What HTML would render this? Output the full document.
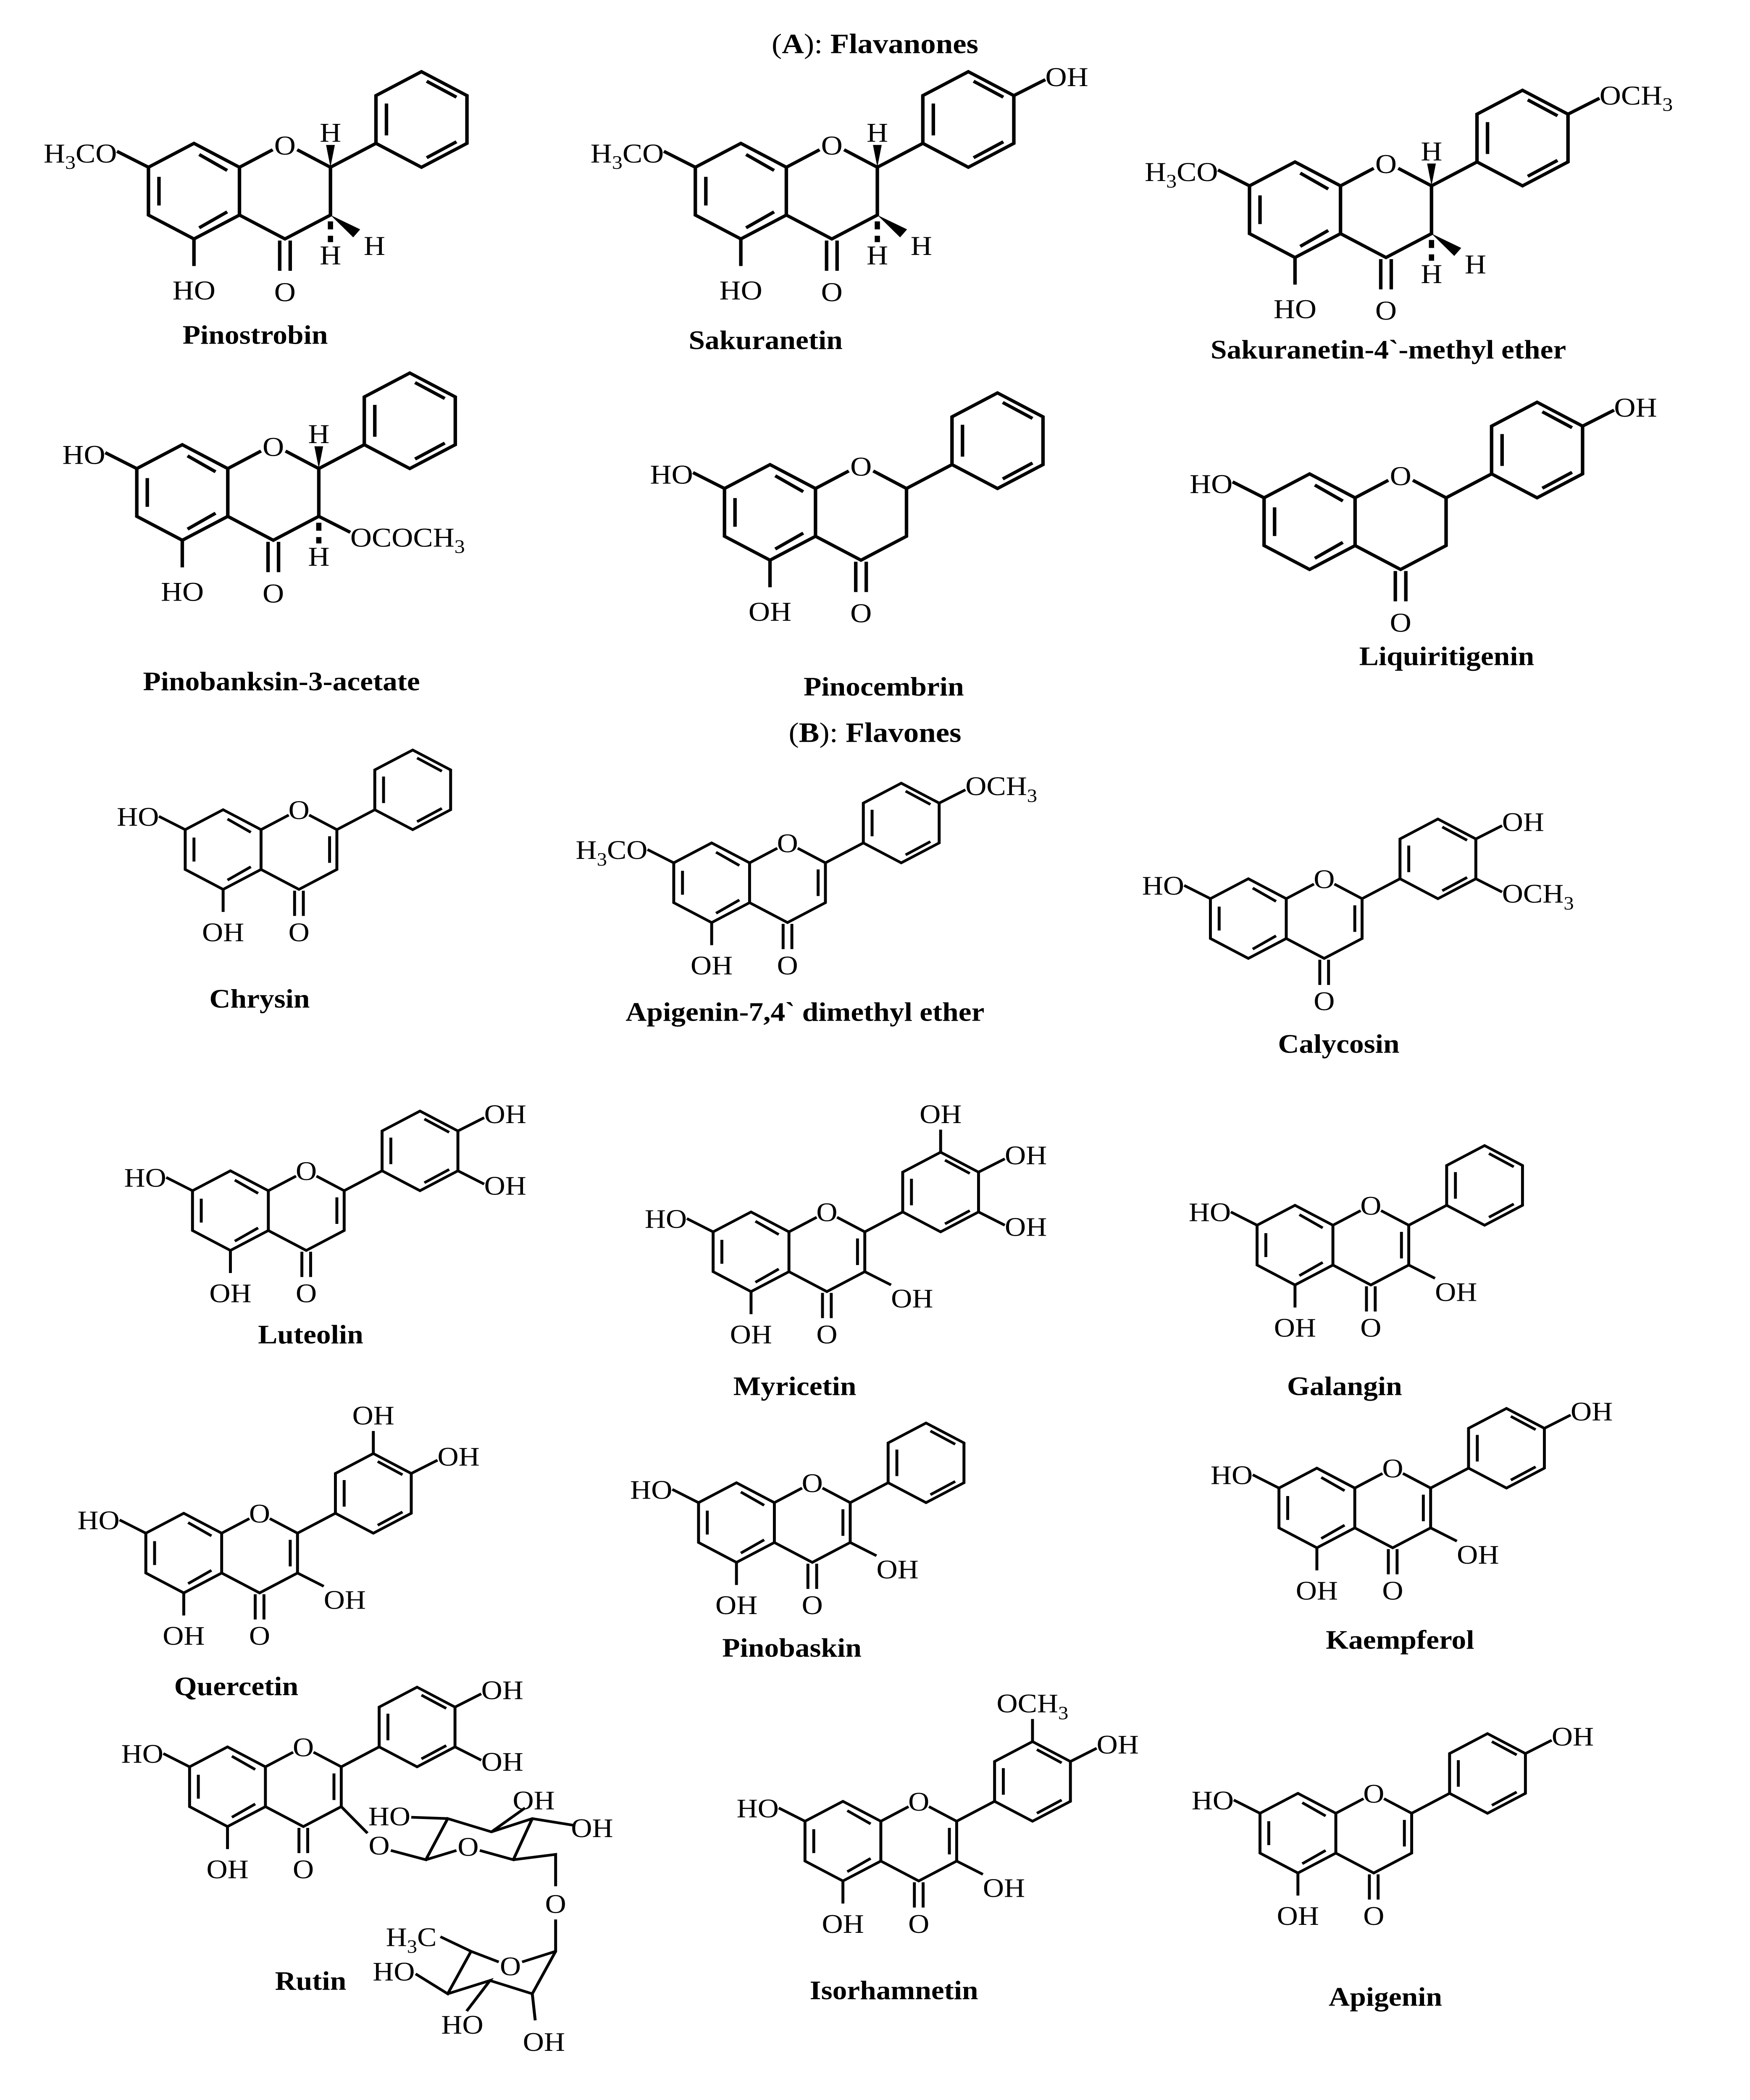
<!DOCTYPE html>
<html><head><meta charset="utf-8"><style>
html,body{margin:0;padding:0;background:#fff;overflow:hidden}
svg{display:block;position:fixed;left:0;top:0;width:100vw;height:100vh}
text{font-family:"Liberation Serif",serif;fill:#000}
.m{text-anchor:middle}
.b{font-weight:bold}
</style></head><body>
<svg viewBox="0 0 1200 1582" preserveAspectRatio="none" xmlns="http://www.w3.org/2000/svg">
<defs>
<g id="core" fill="none" stroke="#000" stroke-width="2">
<polygon points="0,-30 26,-15 26,15 0,30 -26,15 -26,-15"/>
<path d="M3,-23L19,-13M19,13L3,23M-20,-9L-20,9"/>
<path d="M26,-15L45,-26M59,-26L78,-15L78,15L52,30L26,15"/>
<path d="M49,31L49,50M55,31L55,50"/>
<path d="M78,-15L104,-30"/>
<polygon points="130,-75 156,-60 156,-30 130,-15 104,-30 104,-60"/>
<path d="M133,-69L150,-59M150,-31L133,-21M110,-35L110,-55"/>
</g>
<path id="db" d="M73,-10L73,10" stroke="#000" stroke-width="2" fill="none"/>
<g id="st">
<polygon points="78,-15 75.5,-29 80.5,-29" fill="#000"/>
<path d="M78,19L78,24M78,28L78,32" stroke="#000" stroke-width="3"/>
<polygon points="78,15 95,24 91,29" fill="#000"/>
</g>
</defs>

<g font-size="21">
<text x="600" y="40" class="m">(<tspan class="b">A</tspan>): <tspan class="b">Flavanones</tspan></text>
<text x="600" y="559" class="m">(<tspan class="b">B</tspan>): <tspan class="b">Flavones</tspan></text>
</g>
<g font-size="20" font-weight="bold">
<text x="175" y="259" class="m">Pinostrobin</text>
<text x="525" y="263" class="m">Sakuranetin</text>
<text x="952" y="270" class="m">Sakuranetin-4`-methyl ether</text>
<text x="193" y="520" class="m">Pinobanksin-3-acetate</text>
<text x="606" y="524" class="m">Pinocembrin</text>
<text x="992" y="501" class="m">Liquiritigenin</text>
<text x="178" y="759" class="m">Chrysin</text>
<text x="552" y="769" class="m">Apigenin-7,4` dimethyl ether</text>
<text x="918" y="793" class="m">Calycosin</text>
<text x="213" y="1012" class="m">Luteolin</text>
<text x="545" y="1051" class="m">Myricetin</text>
<text x="922" y="1051" class="m">Galangin</text>
<text x="162" y="1277" class="m">Quercetin</text>
<text x="543" y="1248" class="m">Pinobaskin</text>
<text x="960" y="1242" class="m">Kaempferol</text>
<text x="213" y="1499" class="m">Rutin</text>
<text x="613" y="1506" class="m">Isorhamnetin</text>
<text x="950" y="1511" class="m">Apigenin</text>
</g>

<!-- 1 Pinostrobin -->
<g transform="translate(133,144) scale(1.2)" font-size="17">
<use href="#core"/><use href="#st"/>
<g stroke="#000" stroke-width="2" fill="none"><path d="M-26,-15L-44,-25M0,30L0,47"/></g>
<text x="-44" y="-18" text-anchor="end">H<tspan font-size="12" dy="4">3</tspan><tspan dy="-4">CO</tspan></text>
<text x="0" y="68" class="m">HO</text><text x="52" y="69" class="m">O</text><text x="52" y="-23" class="m">O</text>
<text x="78" y="-31" class="m">H</text><text x="78" y="46" class="m">H</text><text x="97" y="40">H</text>
</g>
<!-- 2 Sakuranetin -->
<g transform="translate(508,144) scale(1.2)" font-size="17">
<use href="#core"/><use href="#st"/>
<g stroke="#000" stroke-width="2" fill="none"><path d="M-26,-15L-44,-25M0,30L0,47M156,-60L174,-70"/></g>
<text x="-44" y="-18" text-anchor="end">H<tspan font-size="12" dy="4">3</tspan><tspan dy="-4">CO</tspan></text>
<text x="0" y="68" class="m">HO</text><text x="52" y="69" class="m">O</text><text x="52" y="-23" class="m">O</text>
<text x="78" y="-31" class="m">H</text><text x="78" y="46" class="m">H</text><text x="97" y="40">H</text>
<text x="174" y="-66">OH</text>
</g>
<!-- 3 Sakuranetin-4'-methyl ether -->
<g transform="translate(888,158) scale(1.2)" font-size="17">
<use href="#core"/><use href="#st"/>
<g stroke="#000" stroke-width="2" fill="none"><path d="M-26,-15L-44,-25M0,30L0,47M156,-60L174,-70"/></g>
<text x="-44" y="-18" text-anchor="end">H<tspan font-size="12" dy="4">3</tspan><tspan dy="-4">CO</tspan></text>
<text x="0" y="68" class="m">HO</text><text x="52" y="69" class="m">O</text><text x="52" y="-23" class="m">O</text>
<text x="78" y="-31" class="m">H</text><text x="78" y="46" class="m">H</text><text x="97" y="40">H</text>
<text x="174" y="-66">OCH<tspan font-size="12" dy="4">3</tspan></text>
</g>
<!-- 4 Pinobanksin-3-acetate -->
<g transform="translate(125,371) scale(1.2)" font-size="17">
<use href="#core"/>
<polygon points="78,-15 75.5,-29 80.5,-29" fill="#000"/>
<g stroke="#000" stroke-width="2" fill="none"><path d="M-26,-15L-44,-25M0,30L0,47M78,15L96,25"/><path d="M78,19L78,24M78,28L78,32" stroke-width="3"/></g>
<text x="-44" y="-18" text-anchor="end">HO</text>
<text x="0" y="68" class="m">HO</text><text x="52" y="69" class="m">O</text><text x="52" y="-23" class="m">O</text>
<text x="78" y="-31" class="m">H</text><text x="78" y="46" class="m">H</text>
<text x="96" y="34">OCOCH<tspan font-size="12" dy="4">3</tspan></text>
</g>
<!-- 5 Pinocembrin -->
<g transform="translate(528,386) scale(1.2)" font-size="17">
<use href="#core"/>
<g stroke="#000" stroke-width="2" fill="none"><path d="M-26,-15L-44,-25M0,30L0,47"/></g>
<text x="-44" y="-18" text-anchor="end">HO</text>
<text x="0" y="68" class="m">OH</text><text x="52" y="69" class="m">O</text><text x="52" y="-23" class="m">O</text>
</g>
<!-- 6 Liquiritigenin -->
<g transform="translate(898,393) scale(1.2)" font-size="17">
<use href="#core"/>
<g stroke="#000" stroke-width="2" fill="none"><path d="M-26,-15L-44,-25M156,-60L174,-70"/></g>
<text x="-44" y="-18" text-anchor="end">HO</text>
<text x="52" y="69" class="m">O</text><text x="52" y="-23" class="m">O</text>
<text x="174" y="-66">OH</text>
</g>

<!-- 7 Chrysin -->
<g transform="translate(153,640)" font-size="20">
<use href="#core"/><use href="#db"/>
<g stroke="#000" stroke-width="2" fill="none"><path d="M-26,-15L-44,-25M0,30L0,47"/></g>
<text x="-44" y="-18" text-anchor="end">HO</text>
<text x="0" y="69" class="m">OH</text><text x="52" y="69" class="m">O</text><text x="52" y="-23" class="m">O</text>
</g>
<!-- 8 Apigenin dimethyl ether -->
<g transform="translate(488,665)" font-size="20">
<use href="#core"/><use href="#db"/>
<g stroke="#000" stroke-width="2" fill="none"><path d="M-26,-15L-44,-25M0,30L0,47M156,-60L174,-70"/></g>
<text x="-44" y="-18" text-anchor="end">H<tspan font-size="14" dy="5">3</tspan><tspan dy="-5">CO</tspan></text>
<text x="0" y="69" class="m">OH</text><text x="52" y="69" class="m">O</text><text x="52" y="-23" class="m">O</text>
<text x="174" y="-66">OCH<tspan font-size="14" dy="5">3</tspan></text>
</g>
<!-- 9 Calycosin -->
<g transform="translate(856,692)" font-size="20">
<use href="#core"/><use href="#db"/>
<g stroke="#000" stroke-width="2" fill="none"><path d="M-26,-15L-44,-25M156,-60L174,-70M156,-30L174,-20"/></g>
<text x="-44" y="-18" text-anchor="end">HO</text>
<text x="52" y="69" class="m">O</text><text x="52" y="-23" class="m">O</text>
<text x="174" y="-66">OH</text><text x="174" y="-12">OCH<tspan font-size="14" dy="5">3</tspan></text>
</g>
<!-- 10 Luteolin -->
<g transform="translate(158,912)" font-size="20">
<use href="#core"/><use href="#db"/>
<g stroke="#000" stroke-width="2" fill="none"><path d="M-26,-15L-44,-25M0,30L0,47M156,-60L174,-70M156,-30L174,-20"/></g>
<text x="-44" y="-18" text-anchor="end">HO</text>
<text x="0" y="69" class="m">OH</text><text x="52" y="69" class="m">O</text><text x="52" y="-23" class="m">O</text>
<text x="174" y="-66">OH</text><text x="174" y="-12">OH</text>
</g>
<!-- 11 Myricetin -->
<g transform="translate(515,943)" font-size="20">
<use href="#core"/><use href="#db"/>
<g stroke="#000" stroke-width="2" fill="none"><path d="M-26,-15L-44,-25M0,30L0,47M78,15L96,25M156,-60L174,-70M156,-30L174,-20M130,-75L130,-92"/></g>
<text x="-44" y="-18" text-anchor="end">HO</text>
<text x="0" y="69" class="m">OH</text><text x="52" y="69" class="m">O</text><text x="52" y="-23" class="m">O</text>
<text x="96" y="42">OH</text>
<text x="174" y="-66">OH</text><text x="174" y="-12">OH</text><text x="130" y="-97" class="m">OH</text>
</g>
<!-- 12 Galangin -->
<g transform="translate(888,938)" font-size="20">
<use href="#core"/><use href="#db"/>
<g stroke="#000" stroke-width="2" fill="none"><path d="M-26,-15L-44,-25M0,30L0,47M78,15L96,25"/></g>
<text x="-44" y="-18" text-anchor="end">HO</text>
<text x="0" y="69" class="m">OH</text><text x="52" y="69" class="m">O</text><text x="52" y="-23" class="m">O</text>
<text x="96" y="42">OH</text>
</g>
<!-- 13 Quercetin -->
<g transform="translate(126,1170)" font-size="20">
<use href="#core"/><use href="#db"/>
<g stroke="#000" stroke-width="2" fill="none"><path d="M-26,-15L-44,-25M0,30L0,47M78,15L96,25M156,-60L174,-70M130,-75L130,-92"/></g>
<text x="-44" y="-18" text-anchor="end">HO</text>
<text x="0" y="69" class="m">OH</text><text x="52" y="69" class="m">O</text><text x="52" y="-23" class="m">O</text>
<text x="96" y="42">OH</text>
<text x="174" y="-66">OH</text><text x="130" y="-97" class="m">OH</text>
</g>
<!-- 14 Pinobaskin -->
<g transform="translate(505,1147)" font-size="20">
<use href="#core"/><use href="#db"/>
<g stroke="#000" stroke-width="2" fill="none"><path d="M-26,-15L-44,-25M0,30L0,47M78,15L96,25"/></g>
<text x="-44" y="-18" text-anchor="end">HO</text>
<text x="0" y="69" class="m">OH</text><text x="52" y="69" class="m">O</text><text x="52" y="-23" class="m">O</text>
<text x="96" y="42">OH</text>
</g>
<!-- 15 Kaempferol -->
<g transform="translate(903,1136)" font-size="20">
<use href="#core"/><use href="#db"/>
<g stroke="#000" stroke-width="2" fill="none"><path d="M-26,-15L-44,-25M0,30L0,47M78,15L96,25M156,-60L174,-70"/></g>
<text x="-44" y="-18" text-anchor="end">HO</text>
<text x="0" y="69" class="m">OH</text><text x="52" y="69" class="m">O</text><text x="52" y="-23" class="m">O</text>
<text x="96" y="42">OH</text><text x="174" y="-66">OH</text>
</g>
<!-- 16 Rutin -->
<g transform="translate(156,1346)" font-size="20">
<use href="#core"/><use href="#db"/>
<g stroke="#000" stroke-width="2" fill="none"><path d="M-26,-15L-44,-25M0,30L0,47M156,-60L174,-70M156,-30L174,-20"/></g>
<text x="-44" y="-18" text-anchor="end">HO</text>
<text x="0" y="69" class="m">OH</text><text x="52" y="69" class="m">O</text><text x="52" y="-23" class="m">O</text>
<text x="174" y="-66">OH</text><text x="174" y="-12">OH</text>
</g>
<!-- Rutin sugars -->
<g stroke="#000" stroke-width="2" fill="none">
<path d="M234,1361L252,1381"/>
<path d="M268,1394L292,1401L307,1370L337,1380L365,1370L393,1375"/>
<path d="M282,1369L307,1370"/>
<path d="M292,1401L313,1394M329,1394L352,1401L365,1370"/>
<path d="M337,1380L360,1362"/>
<path d="M352,1401L381,1397L381,1421M381,1446L381,1470L358,1478M342,1478L323,1470L302,1459"/>
<path d="M323,1470L307,1502L285,1487M307,1502L336,1492L320,1515M336,1492L365,1502L381,1470M365,1502L367,1522"/>
</g>
<g font-size="20">
<text x="260" y="1397" class="m">O</text>
<text x="267" y="1375" class="m">HO</text>
<text x="366" y="1363" class="m">OH</text>
<text x="406" y="1384" class="m">OH</text>
<text x="321" y="1398" class="m">O</text>
<text x="381" y="1441" class="m">O</text>
<text x="282" y="1466" class="m">H<tspan font-size="14" dy="5">3</tspan><tspan dy="-5">C</tspan></text>
<text x="350" y="1488" class="m">O</text>
<text x="270" y="1492" class="m">HO</text>
<text x="317" y="1532" class="m">HO</text>
<text x="373" y="1545" class="m">OH</text>
</g>
<!-- 17 Isorhamnetin -->
<g transform="translate(578,1387)" font-size="20">
<use href="#core"/><use href="#db"/>
<g stroke="#000" stroke-width="2" fill="none"><path d="M-26,-15L-44,-25M0,30L0,47M78,15L96,25M156,-60L174,-70M130,-75L130,-92"/></g>
<text x="-44" y="-18" text-anchor="end">HO</text>
<text x="0" y="69" class="m">OH</text><text x="52" y="69" class="m">O</text><text x="52" y="-23" class="m">O</text>
<text x="96" y="42">OH</text>
<text x="174" y="-66">OH</text><text x="130" y="-97" class="m">OCH<tspan font-size="14" dy="5">3</tspan></text>
</g>
<!-- 18 Apigenin -->
<g transform="translate(890,1381)" font-size="20">
<use href="#core"/><use href="#db"/>
<g stroke="#000" stroke-width="2" fill="none"><path d="M-26,-15L-44,-25M0,30L0,47M156,-60L174,-70"/></g>
<text x="-44" y="-18" text-anchor="end">HO</text>
<text x="0" y="69" class="m">OH</text><text x="52" y="69" class="m">O</text><text x="52" y="-23" class="m">O</text>
<text x="174" y="-66">OH</text>
</g>
</svg>
</body></html>
